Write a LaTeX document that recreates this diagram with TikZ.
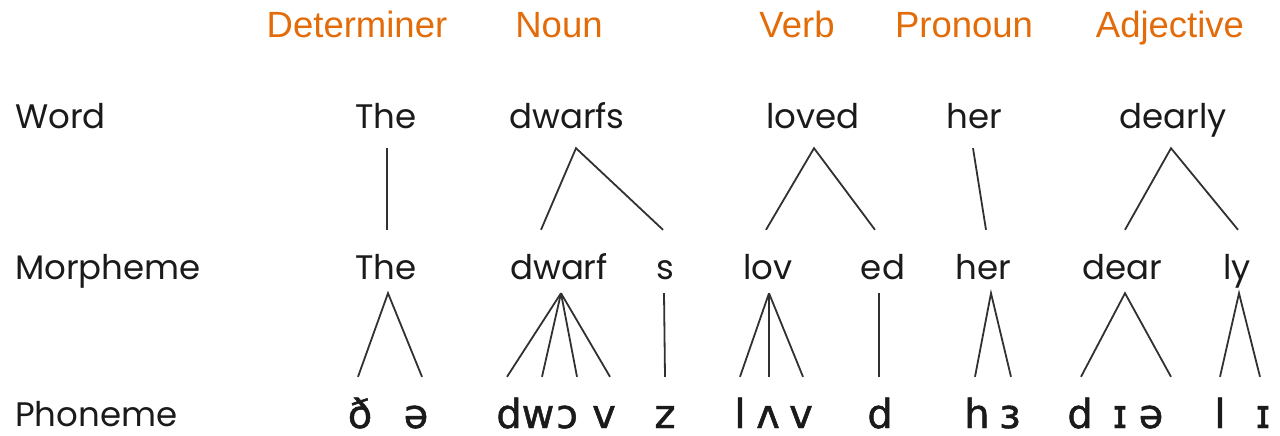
\documentclass[tikz,border=0pt]{standalone}
\usepackage{fontspec}
\setmainfont{Poppins}
\newfontfamily\labelfont{Liberation Sans}
\newfontfamily\ipafont[FakeBold=1.2]{DejaVu Sans}
\definecolor{posorange}{HTML}{E36C0A}
\definecolor{ink}{HTML}{1A1A1A}
\begin{document}
\begin{tikzpicture}[x=1pt,y=-1pt,
  poslabel/.style={font=\labelfont\fontsize{36.5}{40}\selectfont, text=posorange, anchor=base, inner sep=0pt},
  rowlab/.style={font=\fontsize{34}{40}\selectfont, text=ink, anchor=base west, inner sep=0pt},
  wordn/.style={font=\fontsize{34}{40}\selectfont, text=ink, anchor=base, inner sep=0pt, text height=27pt, text depth=20pt},
  morph/.style={font=\fontsize{34}{40}\selectfont, text=ink, anchor=base, inner sep=0pt, text height=49pt, text depth=14pt},
  phon/.style={font=\ipafont\fontsize{40}{44}\selectfont, text=ink, anchor=base, inner sep=0pt, text height=51pt, text depth=8pt},
  tree/.style={draw=ink!90, line width=1.8pt}
]
\useasboundingbox (0,0) rectangle (1280,436);

% part-of-speech labels
\node[poslabel] (lDet)  at (357,38)  {Determiner};
\node[poslabel] (lNoun) at (559,38)  {Noun};
\node[poslabel] (lVerb) at (797,38)  {Verb};
\node[poslabel] (lPro)  at (964,38)  {Pronoun};
\node[poslabel] (lAdj)  at (1170,38) {Adjective};

% row labels
\node[rowlab] (rWord)  at (15,128) {Word};
\node[rowlab] (rMorph) at (15,279) {Morpheme};
\node[rowlab] (rPhon)  at (15,426) {Phoneme};

% words
\node[wordn] (wThe)    at (386,128)  {The};
\node[wordn] (wDwarfs) at (567,128)  {dwarfs};
\node[wordn] (wLoved)  at (813,128)  {loved};
\node[wordn] (wHer)    at (974,128)  {her};
\node[wordn] (wDearly) at (1173,128) {dearly};

% morphemes
\node[morph] (mThe)   at (386,279)  {The};
\node[morph] (mDwarf) at (559,279)  {dwarf};
\node[morph] (mS)     at (665,279)  {s};
\node[morph] (mLov)   at (768,279)  {lov};
\node[morph] (mEd)    at (883,279)  {ed};
\node[morph] (mHer)   at (983,279)  {her};
\node[morph] (mDear)  at (1122,279) {dear};
\node[morph] (mLy)    at (1237,279) {ly};

% phonemes
\node[phon] (pDh)   at (360,428)  {ð};
\node[phon] (pSchA) at (416,428)  {ə};
\node[phon] (pD1)   at (509,428)  {d};
\node[phon] (pW)    at (538,428)  {w};
\node[phon] (pO)    at (567,428)  {ɔ};
\node[phon] (pV1)   at (604,428)  {v};
\node[phon] (pZ)    at (665,428)  {z};
\node[phon] (pL1)   at (740,428)  {l};
\node[phon] (pU)    at (768,428)  {ʌ};
\node[phon] (pV2)   at (801,428)  {v};
\node[phon] (pD2)   at (880,428)  {d};
\node[phon] (pH)    at (977,428)  {h};
\node[phon] (pEr)   at (1010,428) {ɜ};
\node[phon] (pD3)   at (1080,428) {d};
\node[phon] (pI1)   at (1120,428) {ɪ};
\node[phon] (pSchB) at (1151,428) {ə};
\node[phon] (pL2)   at (1220,428) {l};
\node[phon] (pI2)   at (1263,428) {ɪ};

% word -> morpheme
\draw[tree] ([xshift=1pt]wThe.south) -- ([xshift=1pt]mThe.north);
\draw[tree] ([xshift=-18pt]mDwarf.north) -- ([xshift=9pt]wDwarfs.south) -- ([xshift=-2pt]mS.north);
\draw[tree] ([xshift=-2pt]mLov.north) -- ([xshift=1pt]wLoved.south) -- ([xshift=-8pt]mEd.north);
\draw[tree] ([xshift=-1pt]wHer.south) -- ([xshift=3pt]mHer.north);
\draw[tree] ([xshift=3pt]mDear.north) -- ([xshift=-2pt]wDearly.south) -- ([xshift=1pt]mLy.north);

% morpheme -> phoneme
\draw[tree] ([xshift=-2pt]pDh.north) -- ([xshift=2pt]mThe.south) -- ([xshift=6pt]pSchA.north);
\foreach \p/\s in {pD1/-2, pW/4, pO/10, pV1/6}
  \draw[tree] ([xshift=2pt]mDwarf.south) -- ([xshift=\s pt]\p.north);
\draw[tree] ([xshift=-1pt]mS.south) -- (pZ.north);
\foreach \p/\s in {pL1/0, pU/1, pV2/2}
  \draw[tree] ([xshift=1pt]mLov.south) -- ([xshift=\s pt]\p.north);
\draw[tree] ([xshift=-4pt]mEd.south) -- ([xshift=-1pt]pD2.north);
\draw[tree] ([xshift=-2pt]pH.north) -- ([xshift=8pt]mHer.south) -- ([xshift=1pt]pEr.north);
\draw[tree] ([xshift=1pt]pD3.north) -- ([xshift=3pt]mDear.south) -- ([xshift=20pt]pSchB.north);
\draw[tree] (pL2.north) -- ([xshift=2pt]mLy.south) -- ([xshift=-3pt]pI2.north);
\end{tikzpicture}
\end{document}
